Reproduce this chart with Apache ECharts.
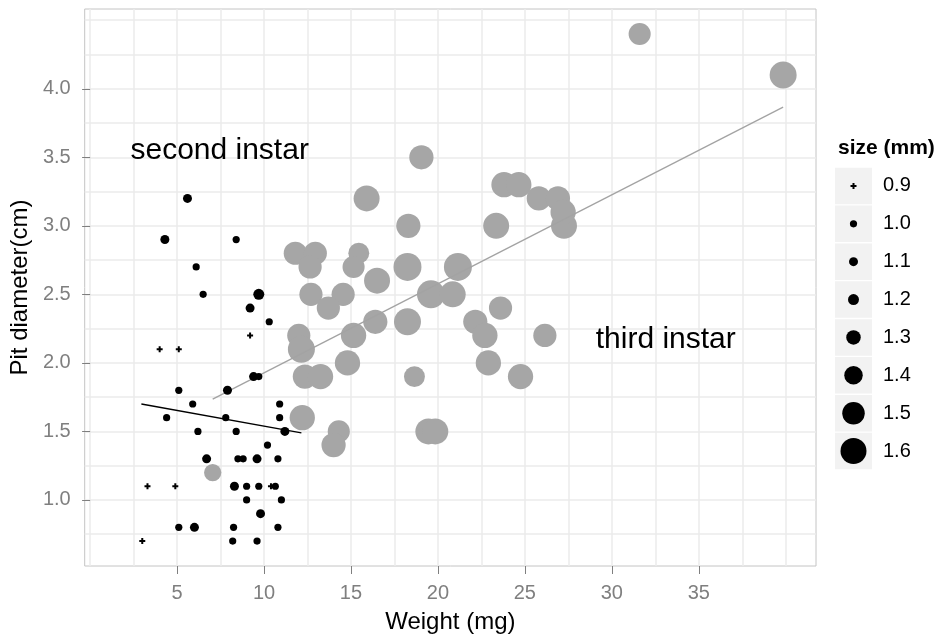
<!DOCTYPE html>
<html><head><meta charset="utf-8">
<script src="https://cdn.jsdelivr.net/npm/echarts@6/dist/echarts.min.js"></script>
<style>html,body{margin:0;padding:0;background:#fff}#c{width:939px;height:640px}</style>
</head><body><div id="c"></div>
<script>
// ---- data ----
const weight2 = [5.6,4.3,8.4,6.1,6.5, 9.7,9.2,10.3,9.2,4.0, 5.1,9.4,9.7,5.1,7.9, 5.9,10.9,4.4,7.8,10.9, 6.2,8.4,11.2,10.2,6.7, 8.5,8.8,9.6,10.8,3.3, 4.9,8.3,9.0,9.7,10.4, 10.65,9.0,11.0,9.8,5.1, 6.0,8.25,10.8,3.0,8.2, 9.6];
const pit2 = [3.2,2.9,2.9,2.7,2.5, 2.5,2.4,2.3,2.2,2.1, 2.1,1.9,1.9,1.8,1.8, 1.7,1.7,1.6,1.6,1.6, 1.5,1.5,1.5,1.4,1.3, 1.3,1.3,1.3,1.3,1.1, 1.1,1.1,1.1,1.1,1.1, 1.1,1.0,1.0,0.9,0.8, 0.8,0.8,0.8,0.7,0.7, 0.7];
const size2 = [1.1,1.1,1.0,1.0,1.0, 1.2,1.1,1.0,0.9,0.9, 0.9,1.1,1.0,1.0,1.1, 1.0,1.0,1.0,1.0,1.0, 1.0,1.0,1.1,1.0,1.1, 1.0,1.0,1.1,1.0,0.9, 0.9,1.1,1.0,1.0,0.9, 1.0,1.0,1.0,1.1,1.0, 1.1,1.0,1.0,0.9,1.0, 1.0];

const weight3 = [11.8,12.95,12.65,15.45,15.15, 16.5,18.25,12.7,14.55,13.7, 19.6,20.85,21.15,18.3,23.35, 27.25,16.4,18.25,15.15,12.0, 12.15,22.15,22.7,23.6,26.15, 14.8,12.35,13.25,18.65,22.9, 24.75,12.2,14.3,14.0,19.45, 19.85,7.05,31.6,39.85,19.05, 23.8,24.65,25.8,26.9,27.2, 15.9];
const pit3 = [2.8,2.8,2.7,2.8,2.7, 2.6,2.7,2.5,2.5,2.4, 2.5,2.5,2.7,3.0,3.0, 3.0,2.3,2.3,2.2,2.2, 2.1,2.3,2.2,2.4,2.2, 2.0,1.9,1.9,1.9,2.0, 1.9,1.6,1.5,1.4,1.5, 1.5,1.2,4.4,4.1,3.5, 3.3,3.3,3.2,3.2,3.1, 3.2];
const size3 = [1.52,1.52,1.52,1.46,1.49, 1.6,1.66,1.52,1.52,1.52, 1.66,1.6,1.66,1.55,1.6, 1.6,1.55,1.63,1.58,1.52, 1.63,1.55,1.58,1.52,1.52, 1.58,1.55,1.58,1.46,1.58, 1.58,1.58,1.49,1.55,1.6, 1.6,1.37,1.49,1.63,1.55, 1.58,1.58,1.55,1.55,1.58, 1.6];

const fit2Weight = [2.95, 12.15];
const fit2Pit = [1.70, 1.49];
const fit3Weight = [7.05, 39.85];
const fit3Pit = [1.735, 3.866];

const xTickValues = [5,10,15,20,25,30,35];
const yTickValues = [1.0,1.5,2.0,2.5,3.0,3.5,4.0];
const xGridValues = [0,2.5,5,7.5,10,12.5,15,17.5,20,22.5,25,27.5,30,32.5,35,37.5,40];
const yGridValues = [0.75,1.0,1.25,1.5,1.75,2.0,2.25,2.5,2.75,3.0,3.25,3.5,3.75,4.0,4.25,4.5];
const legendSizes = [0.9,1.0,1.1,1.2,1.3,1.4,1.5,1.6];
const annotationText = ['second instar','third instar'];
const annotationX = [7.45, 33.1];
const annotationY = [3.55, 2.17];

// ---- size scale (mm -> px diameter) ----
const KNOT_V = [0.9,1.0,1.1,1.2,1.3,1.4,1.5,1.6];
const KNOT_D = [6,7.2,9,11,14.5,18.5,22.5,26];
function diam(v){
  if (v <= KNOT_V[0] + 1e-9) return KNOT_D[0];
  const n = KNOT_V.length;
  if (v >= KNOT_V[n-1]) return KNOT_D[n-1] + (v - KNOT_V[n-1]) * 33;
  for (let i = 0; i < n-1; i++) {
    if (v <= KNOT_V[i+1] + 1e-9) {
      const t = (v - KNOT_V[i]) / (KNOT_V[i+1] - KNOT_V[i]);
      return KNOT_D[i] + t * (KNOT_D[i+1] - KNOT_D[i]);
    }
  }
  return KNOT_D[n-1];
}
const PLUS = 'path://M2,0H4V2H6V4H4V6H2V4H0V2H2Z';
function symFor(v){ return v < 0.95 ? PLUS : 'circle'; }

const FONT = 'Liberation Sans, Arial, Helvetica, sans-serif';
const chart = echarts.init(document.getElementById('c'), null, {renderer:'canvas'});

const d2 = weight2.map((w,i)=>({value:[w,pit2[i],size2[i]], symbol:symFor(size2[i])}));
const d3 = weight3.map((w,i)=>[w,pit3[i],size3[i]]);
const legendLabels = legendSizes.map(v=>v.toFixed(1));

const option = {
  animation:false,
  backgroundColor:'#ffffff',
  textStyle:{fontFamily:FONT},
  title:{text:'size (mm)', left:833, top:133, textStyle:{fontSize:21, fontWeight:'bold', color:'#000', fontFamily:FONT}},
  grid:[
    {left:84, top:9, width:732, height:557, show:true, borderColor:'#c4c4c4', borderWidth:1, backgroundColor:'#fff'},
    {left:835, top:167, width:37, height:303}
  ],
  xAxis:[
    {gridIndex:0, type:'value', min:-0.31, max:41.74,
     axisLine:{show:false},
     axisTick:{show:true, customValues:xTickValues, length:8, lineStyle:{color:'#7f7f7f', width:1}},
     axisLabel:{customValues:xTickValues, color:'#7f7f7f', fontSize:20, margin:17, fontFamily:FONT},
     splitLine:{show:false},
     name:'Weight (mg)', nameLocation:'middle', nameGap:44,
     nameTextStyle:{fontSize:24, color:'#000', fontFamily:FONT}},
    {gridIndex:0, type:'value', min:-0.31, max:41.74, position:'top',
     axisLine:{show:false}, axisTick:{show:false, customValues:xGridValues},
     axisLabel:{show:false}, splitLine:{show:true, lineStyle:{color:'#ebebeb', width:1.5}}},
    {gridIndex:1, type:'category', data:['key'], show:false}
  ],
  yAxis:[
    {gridIndex:0, type:'value', min:0.518, max:4.582,
     axisLine:{show:false},
     axisTick:{show:true, customValues:yTickValues, length:8, lineStyle:{color:'#7f7f7f', width:1}},
     axisLabel:{customValues:yTickValues, formatter:v=>Number(v).toFixed(1), color:'#7f7f7f', fontSize:20, margin:14, fontFamily:FONT},
     splitLine:{show:false},
     name:'Pit diameter(cm)', nameLocation:'middle', nameGap:48, nameRotate:90,
     nameTextStyle:{fontSize:24, color:'#000', fontFamily:FONT}},
    {gridIndex:0, type:'value', min:0.518, max:4.582, position:'right',
     axisLine:{show:false}, axisTick:{show:false, customValues:yGridValues},
     axisLabel:{show:false}, splitLine:{show:true, lineStyle:{color:'#ebebeb', width:1.5}}},
    {gridIndex:1, type:'category', data:legendLabels, inverse:true, position:'right',
     axisLine:{show:false}, axisTick:{show:false}, splitLine:{show:false},
     axisLabel:{color:'#000', fontSize:20, margin:11, align:'left', fontFamily:FONT}}
  ],
  series:[
    {type:'scatter', xAxisIndex:0, yAxisIndex:0, data:d3, symbol:'circle',
     symbolSize:v=>diam(v[2]), itemStyle:{color:'#a6a6a6', opacity:1}, silent:true, z:2},
    {type:'line', xAxisIndex:0, yAxisIndex:0, data:fit3Weight.map((w,i)=>[w,fit3Pit[i]]),
     showSymbol:false, symbol:'none', lineStyle:{color:'#a3a3a3', width:1.3}, silent:true, z:3},
    {type:'scatter', xAxisIndex:0, yAxisIndex:0, data:d2,
     symbolSize:v=>diam(v[2]), itemStyle:{color:'#000', opacity:1}, silent:true, z:4},
    {type:'line', xAxisIndex:0, yAxisIndex:0, data:fit2Weight.map((w,i)=>[w,fit2Pit[i]]),
     showSymbol:false, symbol:'none', lineStyle:{color:'#000', width:1.3}, silent:true, z:5},
    {type:'scatter', xAxisIndex:0, yAxisIndex:0, silent:true, z:6,
     data:annotationText.map((t,i)=>({value:[annotationX[i],annotationY[i]], name:t})),
     symbolSize:1, itemStyle:{color:'rgba(0,0,0,0)'},
     label:{show:true, position:'inside', formatter:p=>p.name, fontSize:30, color:'#000', opacity:1, fontFamily:FONT}},
    // legend keys
    {type:'scatter', xAxisIndex:2, yAxisIndex:2, silent:true, symbol:'rect', symbolSize:[37,36.5],
     itemStyle:{color:'#f2f2f2', opacity:1}, data:legendLabels.map(l=>['key', l]), z:2},
    {type:'scatter', xAxisIndex:2, yAxisIndex:2, silent:true,
     data:legendSizes.map((v,i)=>({value:['key', legendLabels[i], v], symbol:symFor(v)})),
     symbolSize:v=>diam(v[2]), itemStyle:{color:'#000', opacity:1}, z:3}
  ]
};
chart.setOption(option);
</script>
</body></html>
